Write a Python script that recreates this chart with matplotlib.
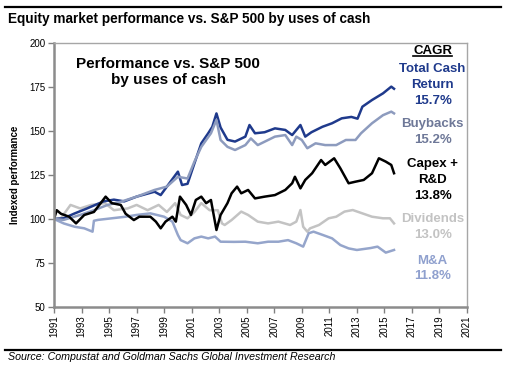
import matplotlib
matplotlib.use("Agg")
import matplotlib.pyplot as plt
from matplotlib.lines import Line2D

plt.rcParams['font.family'] = ['Liberation Sans', 'DejaVu Sans']

# ---------------- data ----------------
tcr_x = [1991.0, 1991.7, 1992.45, 1993.4, 1994.6, 1995.35, 1996.1, 1997.0, 1998.3, 1998.75,
         1999.2, 2000.0, 2000.3, 2000.7, 2001.2, 2001.7, 2002.2, 2002.5, 2002.8, 2003.1,
         2003.6, 2004.15, 2004.9, 2005.2, 2005.6, 2006.3, 2007.05, 2007.8, 2008.3, 2008.9,
         2009.25, 2009.7, 2010.5, 2011.2, 2011.9, 2012.6, 2013.05, 2013.4, 2014.1, 2014.9,
         2015.5, 2015.7]
tcr_y = [100, 100.4, 103, 106, 110, 111, 110, 112.7, 115.5, 113.6,
         118.4, 126.9, 119.3, 120, 131.6, 143, 148.7, 152.4, 160, 152,
         145, 144, 146.8, 153.4, 148.7, 149.3, 151.5, 150.6, 147.7, 153.4,
         146.8, 149.3, 152.4, 154.4, 157.2, 158, 157, 163.8, 167.6, 171.4,
         175.2, 174]

buy_x = [1991.0, 1991.7, 1992.9, 1993.9, 1994.9, 1995.85, 1997.0, 1998.3, 1999.2, 2000.0,
         2000.7, 2001.2, 2001.7, 2002.4, 2002.8, 2003.1, 2003.6, 2004.15, 2004.9, 2005.3,
         2005.8, 2007.05, 2007.8, 2008.3, 2008.6, 2009.0, 2009.4, 2010.0, 2010.7, 2011.5,
         2012.2, 2012.9, 2013.3, 2014.1, 2014.9, 2015.5, 2015.7]
buy_y = [100, 99.5, 102.3, 105, 108, 109.8, 112.7, 116.5, 118.4, 124,
         123, 132.6, 141, 148.7, 156.3, 144.9, 141, 139.2, 142, 145.8,
         142, 146.8, 147.7, 142, 146.8, 144.9, 140.2, 143, 142, 142,
         144.9, 144.9, 148.7, 154.4, 159, 161, 160]

cap_x = [1991.0, 1991.2, 1991.5, 1992.1, 1992.6, 1993.2, 1993.9, 1994.75, 1995.2, 1995.85,
         1996.2, 1996.8, 1997.2, 1998.0, 1998.4, 1998.75, 1999.1, 1999.6, 1999.85, 2000.15,
         2000.6, 2000.95, 2001.3, 2001.7, 2002.05, 2002.4, 2002.8, 2003.1, 2003.6, 2003.9,
         2004.3, 2004.6, 2005.1, 2005.6, 2006.3, 2007.05, 2007.8, 2008.3, 2008.5, 2008.9,
         2009.25, 2009.75, 2010.4, 2010.7, 2011.35, 2011.8, 2012.4, 2012.9, 2013.5, 2014.1,
         2014.6, 2015.1, 2015.5, 2015.7]
cap_y = [100, 105, 103, 101.3, 97.5, 102.3, 104, 112.7, 109, 108,
         103, 99.4, 101.3, 101.3, 98.5, 94.7, 98.5, 101.3, 98.5, 112.7,
         108, 102.3, 110.8, 112.7, 109, 110.8, 93.75, 102.3, 109, 114.6,
         118.4, 114.6, 116.5, 111.7, 112.7, 113.6, 116.5, 120.3, 124, 117.4,
         122.2, 126, 133.5, 130.7, 134.5, 128.8, 120.3, 121.2, 122.2, 126,
         134.5, 132.6, 130.7, 126]

div_x = [1991.0, 1991.5, 1992.2, 1992.9, 1993.7, 1994.7, 1995.35, 1996.35, 1997.0, 1997.8,
         1998.6, 1999.2, 1999.8, 2000.2, 2000.7, 2001.2, 2001.7, 2002.3, 2002.9, 2003.2,
         2003.4, 2003.9, 2004.6, 2005.1, 2005.8, 2006.55, 2007.3, 2008.15, 2008.6, 2008.9,
         2009.1, 2009.4, 2009.6, 2010.25, 2010.95, 2011.5, 2012.1, 2012.7, 2013.4, 2014.1,
         2014.9, 2015.4, 2015.7]
div_y = [100, 100.4, 108, 106, 108, 109, 105, 106, 108, 105,
         108, 104, 109, 102.3, 100.4, 104, 109, 105, 105, 97.5,
         96.6, 99.4, 104.2, 102.3, 98.5, 97.5, 98.5, 96.6, 98.5, 105.1,
         95.6, 92.8, 94.7, 96.6, 100.4, 101.3, 104.2, 105.1, 103.2, 101.3,
         100.4, 100.4, 97.5]

ma_x = [1991.0, 1991.7, 1992.5, 1993.2, 1993.8, 1993.9, 1994.2, 1995.2, 1996.2, 1997.0,
        1998.0, 1999.0, 1999.6, 2000.0, 2000.2, 2000.7, 2001.2, 2001.7, 2002.2, 2002.7,
        2003.1, 2004.07, 2004.9, 2005.8, 2006.55, 2007.3, 2008.0, 2008.6, 2009.1, 2009.5,
        2009.85, 2010.5, 2011.2, 2011.8, 2012.4, 2013.0, 2014.0, 2014.5, 2015.1, 2015.7]
ma_y = [100, 97.5, 95.6, 94.7, 92.8, 99, 99.5, 100.4, 101.3, 102.3,
        103.2, 101.3, 98.5, 90.9, 88, 86.2, 89, 90, 89, 90,
        87.1, 87, 87.1, 86.2, 87.1, 87.1, 88, 86.2, 84.3, 91.9,
        92.8, 91, 89, 85.2, 83.3, 82.4, 83.5, 84.3, 80.9, 82.4]

x_ticks = list(range(1991, 2022, 2))
y_ticks = [50, 75, 100, 125, 150, 175, 200]

c_tcr = '#1F3A8C'
c_buy = '#8D9BBE'
c_cap = '#000000'
c_div = '#C3C3C3'
c_ma = '#95A5CB'

# ---------------- figure ----------------
W, H = 505, 365
fig = plt.figure(figsize=(W / 100, H / 100), dpi=100)
ax = fig.add_axes([54 / W, 1 - 307 / H, (467 - 54) / W, (307 - 43) / H])

lw = 1.8
ax.plot(div_x, div_y, color=c_div, lw=lw)
ax.plot(ma_x, ma_y, color=c_ma, lw=lw)
ax.plot(tcr_x, tcr_y, color=c_tcr, lw=lw)
ax.plot(buy_x, buy_y, color=c_buy, lw=lw)
ax.plot(cap_x, cap_y, color=c_cap, lw=lw)

ax.set_xlim(1991, 2021)
ax.set_ylim(50, 200)
ax.set_xticks(x_ticks)
ax.set_xticklabels([str(t) for t in x_ticks], rotation=90, fontsize=7)
ax.set_yticks(y_ticks)
ax.set_yticklabels([str(t) for t in y_ticks], fontsize=7)
ax.tick_params(axis='both', direction='out', length=4, width=1, color='#808080', pad=2)

for s in ['left', 'bottom']:
    ax.spines[s].set_color('#8C8C8C')
    ax.spines[s].set_linewidth(1.8)
for s in ['top', 'right']:
    ax.spines[s].set_color('#A6A6A6')
    ax.spines[s].set_linewidth(1.0)

ax.set_ylabel('Indexed performance', fontsize=7, fontweight='bold')
ax.yaxis.set_label_coords((20 - 54) / 413, 0.5)

# inner title
ax.text(1999.3, 183.5, 'Performance vs. S&P 500\nby uses of cash', ha='center', va='center',
        fontsize=11, fontweight='bold', linespacing=1.15)

# right labels
lx = 2018.5
fs = 9.5
ax.text(lx, 195.6, 'CAGR', ha='center', va='center', fontsize=fs, fontweight='bold', color='black')
ax.add_line(Line2D([2017.05, 2019.9], [192.4, 192.4], color='black', lw=1.2,
                   transform=ax.transData, clip_on=False, zorder=5))
ax.text(lx, 185.1, 'Total Cash', ha='center', va='center', fontsize=fs, fontweight='bold', color=c_tcr)
ax.text(lx, 176.1, 'Return', ha='center', va='center', fontsize=fs, fontweight='bold', color=c_tcr)
ax.text(lx, 167.2, '15.7%', ha='center', va='center', fontsize=fs, fontweight='bold', color=c_tcr)
ax.text(lx, 154.0, 'Buybacks', ha='center', va='center', fontsize=fs, fontweight='bold', color='#6E7898')
ax.text(lx, 144.9, '15.2%', ha='center', va='center', fontsize=fs, fontweight='bold', color='#6E7898')
ax.text(lx, 131.1, 'Capex +', ha='center', va='center', fontsize=fs, fontweight='bold', color='black')
ax.text(lx, 122.2, 'R&D', ha='center', va='center', fontsize=fs, fontweight='bold', color='black')
ax.text(lx, 113.2, '13.8%', ha='center', va='center', fontsize=fs, fontweight='bold', color='black')
ax.text(lx, 99.8, 'Dividends', ha='center', va='center', fontsize=fs, fontweight='bold', color=c_div)
ax.text(lx, 90.9, '13.0%', ha='center', va='center', fontsize=fs, fontweight='bold', color=c_div)
ax.text(lx, 76.3, 'M&A', ha='center', va='center', fontsize=fs, fontweight='bold', color='#8FA0CE')
ax.text(lx, 67.6, '11.8%', ha='center', va='center', fontsize=fs, fontweight='bold', color='#8FA0CE')

# header / footer
fig.add_artist(Line2D([5 / W, 501 / W], [1 - 7 / H, 1 - 7 / H], color='black', lw=1.6,
                      transform=fig.transFigure))
fig.add_artist(Line2D([5 / W, 501 / W], [1 - 350 / H, 1 - 350 / H], color='black', lw=1.6,
                      transform=fig.transFigure))
fig.text(8 / W, 1 - 18.5 / H, 'Equity market performance vs. S&P 500 by uses of cash',
         ha='left', va='center', fontsize=9.8, fontweight='bold')
fig.text(8 / W, 1 - 357 / H, 'Source: Compustat and Goldman Sachs Global Investment Research',
         ha='left', va='center', fontsize=7.7, style='italic')

fig.savefig('out.png', dpi=100)
